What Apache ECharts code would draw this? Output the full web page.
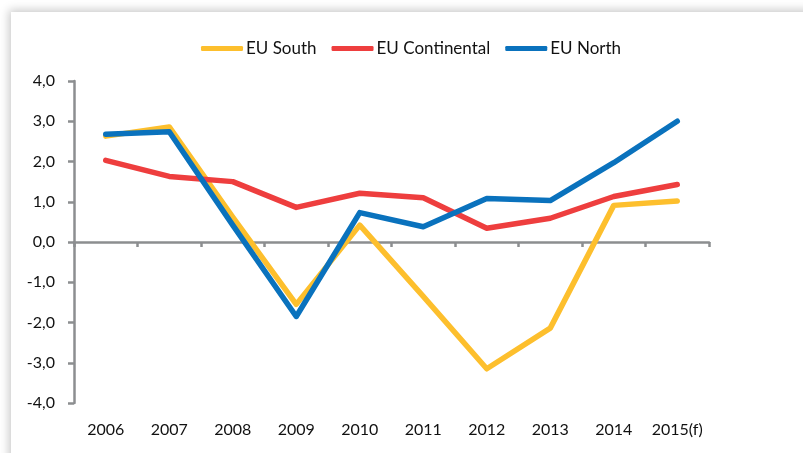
<!DOCTYPE html>
<html>
<head>
<meta charset="utf-8">
<script src="https://cdn.jsdelivr.net/npm/echarts@6/dist/echarts.min.js"></script>
<style>
  html, body { margin: 0; padding: 0; background: #fff; }
  .panel {
    position: absolute; left: 11px; top: 12px; width: 820px; height: 470px;
    background: #fff; box-shadow: 0 0 9px 2px rgba(0, 0, 0, 0.22);
  }
  #chart { position: absolute; left: 0; top: 0; width: 803px; height: 453px; }
</style>
</head>
<body>
<div class="panel"></div>
<div id="chart"></div>
<script>
const years = ['2006', '2007', '2008', '2009', '2010', '2011', '2012', '2013', '2014', '2015(f)']
const euSouth = [2.63, 2.86, 0.62, -1.55, 0.42, -1.35, -3.15, -2.14, 0.91, 1.02]
const euContinental = [2.03, 1.63, 1.5, 0.86, 1.21, 1.1, 0.34, 0.59, 1.13, 1.43]
const euNorth = [2.68, 2.74, 0.42, -1.85, 0.73, 0.38, 1.08, 1.03, 1.97, 3.0]

const FONT = 'Lato'
const AXIS_GRAY = '#8c8e90'
const GRID = { left: 74, right: 94, top: 81, bottom: 50 }

const chart = echarts.init(document.getElementById('chart'))

function lineSeries(name, data, color) {
  return {
    name,
    type: 'line',
    data,
    xAxisIndex: 0,
    yAxisIndex: 0,
    showSymbol: false,
    symbol: 'none',
    lineStyle: { width: 5.5, color, cap: 'round', join: 'round' },
    itemStyle: { color },
    z: 3,
  }
}

chart.setOption({
  animation: false,
  textStyle: { fontFamily: FONT },
  legend: {
    top: 35,
    left: 196,
    itemWidth: 42,
    itemHeight: 5,
    itemGap: 15,
    icon: 'roundRect',
    textStyle: { fontFamily: FONT, fontSize: 17, color: '#111', padding: [0, 0, 0, -2] },
    data: ['EU South', 'EU Continental', 'EU North'],
  },
  grid: [GRID, GRID],
  xAxis: [
    // zero line with ticks
    {
      gridIndex: 0,
      type: 'category',
      data: years,
      axisLine: { onZero: true, lineStyle: { color: AXIS_GRAY, width: 2.5 } },
      axisTick: { show: true, interval: 0, length: 5, lineStyle: { color: AXIS_GRAY, width: 2.5 } },
      axisLabel: { show: false },
    },
    // labels along the bottom
    {
      gridIndex: 1,
      type: 'category',
      data: years,
      position: 'bottom',
      axisLine: { show: false },
      axisTick: { show: false },
      axisLabel: { interval: 0, margin: 19, fontSize: 16, color: '#111', fontFamily: FONT },
    },
  ],
  yAxis: [
    {
      gridIndex: 0,
      type: 'value',
      min: -4,
      max: 4,
      interval: 1,
      axisLine: { show: true, onZero: false, lineStyle: { color: AXIS_GRAY, width: 2.5 } },
      axisTick: { show: true, length: 6, lineStyle: { color: AXIS_GRAY, width: 2.5 } },
      splitLine: { show: false },
      axisLabel: {
        margin: 19,
        fontSize: 16,
        color: '#111',
        fontFamily: FONT,
        formatter: (v) => v.toFixed(1).replace('.', ','),
      },
    },
    {
      gridIndex: 1,
      type: 'value',
      min: -4,
      max: 4,
      show: false,
    },
  ],
  series: [
    lineSeries('EU South', euSouth, '#fdbf2d'),
    lineSeries('EU Continental', euContinental, '#ee3e3e'),
    lineSeries('EU North', euNorth, '#0a72bd'),
  ],
})
</script>
</body>
</html>
